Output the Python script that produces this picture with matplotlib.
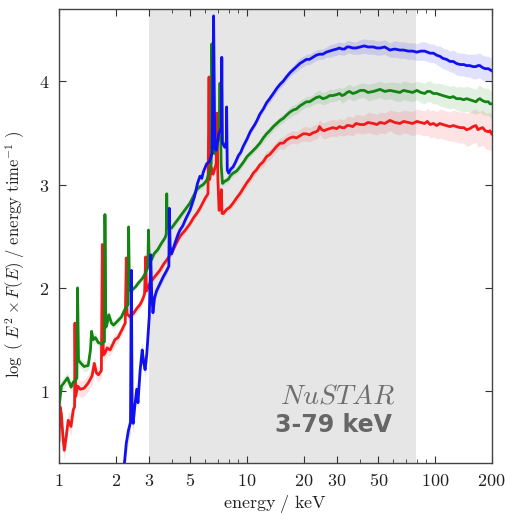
import numpy as np
import matplotlib
matplotlib.use("Agg")
import matplotlib.pyplot as plt
from matplotlib.ticker import FixedLocator, FixedFormatter, LogLocator, NullFormatter

plt.rcParams['mathtext.fontset'] = 'cm'

# (energy keV, log(E^2 F(E)), half-width of uncertainty band)
blue_points = [
    (2.20, 0.20, 0.12), (2.28, 0.50, 0.12), (2.34, 0.62, 0.10), (2.40, 0.70, 0.10),
    (2.425, 2.17, 0.10), (2.45, 0.76, 0.10), (2.48, 0.69, 0.10), (2.53, 0.86, 0.10),
    (2.59, 1.02, 0.09), (2.63, 0.89, 0.09), (2.70, 1.20, 0.08), (2.77, 1.40, 0.08),
    (2.82, 1.28, 0.08), (2.87, 1.21, 0.08), (2.93, 1.36, 0.07), (2.97, 1.52, 0.07),
    (3.02, 1.72, 0.06), (3.075, 2.32, 0.06), (3.11, 1.95, 0.05), (3.16, 1.76, 0.05),
    (3.22, 1.90, 0.05), (3.30, 1.97, 0.04), (3.44, 2.04, 0.04), (3.59, 2.11, 0.04),
    (3.72, 2.16, 0.04), (3.84, 2.21, 0.03), (3.86, 2.77, 0.03), (3.90, 2.40, 0.03),
    (3.97, 2.33, 0.03), (4.15, 2.44, 0.03), (4.30, 2.52, 0.03), (4.40, 2.56, 0.03),
    (4.55, 2.60, 0.03), (4.70, 2.66, 0.03), (4.97, 2.75, 0.03), (5.25, 2.88, 0.03),
    (5.45, 3.01, 0.03), (5.62, 3.08, 0.03), (5.75, 3.06, 0.03), (5.85, 3.12, 0.03),
    (6.10, 3.20, 0.03), (6.30, 3.22, 0.03), (6.52, 3.30, 0.03), (6.64, 4.63, 0.03),
    (6.74, 3.35, 0.03), (6.86, 3.33, 0.03), (7.05, 3.48, 0.03), (7.30, 3.55, 0.03),
    (7.34, 4.23, 0.03), (7.40, 3.40, 0.03), (7.62, 3.36, 0.03), (7.76, 3.42, 0.03),
    (7.79, 3.75, 0.03), (7.85, 3.14, 0.03), (7.98, 3.11, 0.03), (8.20, 3.15, 0.03),
    (8.43, 3.17, 0.03), (8.70, 3.22, 0.03), (9.00, 3.28, 0.03), (9.25, 3.31, 0.03),
    (9.55, 3.37, 0.03), (10.0, 3.44, 0.03), (10.4, 3.51, 0.03), (11.0, 3.58, 0.03),
    (11.3, 3.62, 0.03), (11.7, 3.68, 0.03), (12.2, 3.73, 0.03), (12.7, 3.79, 0.03),
    (13.2, 3.83, 0.04), (13.8, 3.88, 0.04), (14.4, 3.93, 0.04), (15.0, 3.97, 0.04),
    (15.6, 4.00, 0.04), (16.2, 4.04, 0.04), (16.9, 4.08, 0.04), (17.6, 4.11, 0.04),
    (18.3, 4.14, 0.05), (19.1, 4.17, 0.05), (19.9, 4.19, 0.05), (20.7, 4.21, 0.05),
    (21.5, 4.21, 0.05), (22.4, 4.23, 0.05), (23.3, 4.25, 0.05), (24.3, 4.26, 0.05),
    (25.3, 4.26, 0.05), (26.4, 4.28, 0.05), (27.5, 4.29, 0.06), (28.6, 4.30, 0.06),
    (30.0, 4.31, 0.06), (31.0, 4.32, 0.06), (32.0, 4.31, 0.06), (33.0, 4.31, 0.06),
    (34.0, 4.33, 0.06), (35.0, 4.33, 0.06), (36.5, 4.32, 0.06), (38.0, 4.32, 0.06),
    (40.0, 4.33, 0.07), (42.0, 4.34, 0.07), (44.0, 4.33, 0.07), (47.0, 4.33, 0.07),
    (49.0, 4.32, 0.07), (51.0, 4.32, 0.07), (54.0, 4.33, 0.07), (57.5, 4.30, 0.07),
    (61.0, 4.31, 0.08), (65.0, 4.30, 0.08), (68.0, 4.30, 0.08), (72.0, 4.29, 0.08),
    (76.0, 4.29, 0.08), (80.0, 4.28, 0.08), (84.0, 4.29, 0.09), (88.0, 4.29, 0.09),
    (91.0, 4.28, 0.09), (94.0, 4.27, 0.09), (98.0, 4.27, 0.09), (102, 4.25, 0.09),
    (106, 4.24, 0.10), (110, 4.22, 0.10), (115, 4.21, 0.10), (120, 4.19, 0.10),
    (125, 4.19, 0.11), (130, 4.17, 0.11), (136, 4.16, 0.11), (142, 4.16, 0.11),
    (147, 4.15, 0.11), (153, 4.15, 0.11), (159, 4.14, 0.12), (165, 4.14, 0.12),
    (169, 4.15, 0.12), (173, 4.15, 0.12), (179, 4.13, 0.12), (185, 4.12, 0.12),
    (192, 4.12, 0.12), (196, 4.11, 0.12), (200, 4.10, 0.12),
]

green_points = [
    (1.00, 0.85, 0.06), (1.03, 1.05, 0.06), (1.06, 1.08, 0.06), (1.11, 1.13, 0.05),
    (1.16, 1.04, 0.05), (1.19, 1.09, 0.05), (1.22, 1.10, 0.05), (1.245, 1.13, 0.05),
    (1.255, 2.00, 0.05), (1.27, 1.30, 0.05), (1.31, 1.27, 0.05), (1.36, 1.24, 0.05),
    (1.43, 1.25, 0.05), (1.47, 1.40, 0.05), (1.49, 1.58, 0.05), (1.52, 1.50, 0.05),
    (1.56, 1.52, 0.05), (1.62, 1.47, 0.05), (1.68, 1.46, 0.05), (1.745, 1.48, 0.04),
    (1.755, 2.71, 0.04), (1.775, 1.62, 0.04), (1.80, 1.65, 0.04), (1.84, 1.74, 0.04),
    (1.90, 1.66, 0.04), (1.95, 1.64, 0.04), (2.05, 1.68, 0.04), (2.15, 1.72, 0.04),
    (2.25, 1.80, 0.04), (2.33, 1.84, 0.04), (2.345, 2.59, 0.04), (2.37, 1.98, 0.04),
    (2.45, 1.98, 0.03), (2.55, 2.01, 0.03), (2.65, 2.05, 0.03), (2.77, 2.09, 0.03),
    (2.88, 2.14, 0.03), (2.97, 2.20, 0.03), (2.99, 2.56, 0.03), (3.02, 2.25, 0.03),
    (3.10, 2.27, 0.03), (3.20, 2.33, 0.03), (3.35, 2.37, 0.03), (3.50, 2.43, 0.03),
    (3.65, 2.48, 0.03), (3.72, 2.52, 0.03), (3.74, 2.91, 0.03), (3.77, 2.58, 0.03),
    (3.97, 2.58, 0.03), (4.20, 2.64, 0.03), (4.40, 2.69, 0.03), (4.70, 2.76, 0.03),
    (4.97, 2.82, 0.03), (5.20, 2.89, 0.03), (5.40, 2.95, 0.03), (5.62, 2.98, 0.03),
    (5.85, 3.00, 0.03), (6.10, 3.04, 0.03), (6.35, 3.14, 0.03), (6.45, 3.20, 0.03),
    (6.50, 4.36, 0.03), (6.58, 3.40, 0.03), (6.70, 3.30, 0.03), (6.90, 3.35, 0.03),
    (7.10, 3.50, 0.03), (7.18, 3.98, 0.03), (7.28, 3.20, 0.03), (7.40, 3.01, 0.03),
    (7.60, 3.03, 0.03), (7.94, 3.05, 0.03), (8.20, 3.09, 0.03), (8.43, 3.11, 0.03),
    (8.80, 3.13, 0.03), (9.16, 3.17, 0.03), (9.60, 3.22, 0.03), (10.0, 3.27, 0.03),
    (10.4, 3.30, 0.03), (10.8, 3.33, 0.03), (11.2, 3.36, 0.03), (11.7, 3.40, 0.03),
    (12.2, 3.45, 0.04), (12.7, 3.49, 0.04), (13.2, 3.52, 0.04), (13.8, 3.56, 0.04),
    (14.4, 3.59, 0.04), (15.0, 3.62, 0.04), (15.6, 3.64, 0.04), (16.2, 3.67, 0.04),
    (16.9, 3.70, 0.05), (17.6, 3.72, 0.05), (18.3, 3.73, 0.05), (19.1, 3.76, 0.05),
    (19.9, 3.78, 0.05), (20.7, 3.80, 0.05), (21.5, 3.80, 0.05), (22.4, 3.82, 0.05),
    (23.3, 3.84, 0.06), (24.3, 3.85, 0.06), (25.3, 3.83, 0.06), (26.4, 3.84, 0.06),
    (27.5, 3.86, 0.06), (28.6, 3.86, 0.06), (30.0, 3.87, 0.06), (31.0, 3.88, 0.06),
    (32.0, 3.86, 0.07), (33.0, 3.87, 0.07), (34.0, 3.89, 0.07), (35.0, 3.90, 0.07),
    (36.5, 3.88, 0.07), (38.0, 3.89, 0.07), (40.0, 3.91, 0.07), (42.0, 3.91, 0.07),
    (44.0, 3.89, 0.08), (47.0, 3.90, 0.08), (49.0, 3.91, 0.08), (51.0, 3.92, 0.08),
    (54.0, 3.90, 0.08), (57.5, 3.91, 0.08), (61.0, 3.90, 0.09), (65.0, 3.89, 0.09),
    (68.0, 3.91, 0.09), (72.0, 3.90, 0.09), (76.0, 3.89, 0.09), (80.0, 3.91, 0.09),
    (84.0, 3.89, 0.10), (88.0, 3.88, 0.10), (91.0, 3.90, 0.10), (94.0, 3.90, 0.10),
    (98.0, 3.88, 0.10), (102, 3.88, 0.10), (106, 3.87, 0.11), (110, 3.86, 0.11),
    (115, 3.85, 0.11), (120, 3.84, 0.11), (125, 3.85, 0.11), (130, 3.83, 0.11),
    (136, 3.83, 0.12), (142, 3.82, 0.12), (147, 3.83, 0.12), (153, 3.82, 0.12),
    (159, 3.81, 0.12), (165, 3.80, 0.12), (169, 3.82, 0.13), (173, 3.83, 0.13),
    (179, 3.81, 0.13), (185, 3.80, 0.13), (192, 3.80, 0.13), (196, 3.78, 0.13),
    (200, 3.78, 0.13),
]

red_points = [
    (1.00, 0.52, 0.10), (1.012, 0.85, 0.10), (1.03, 0.78, 0.10), (1.05, 0.55, 0.10),
    (1.067, 0.43, 0.10), (1.09, 0.55, 0.10), (1.12, 0.72, 0.09), (1.158, 0.66, 0.09),
    (1.19, 0.82, 0.09), (1.21, 0.85, 0.09), (1.216, 1.66, 0.09), (1.225, 0.95, 0.09),
    (1.257, 1.05, 0.08), (1.30, 1.02, 0.08), (1.36, 1.03, 0.08), (1.43, 1.08, 0.08),
    (1.50, 1.15, 0.08), (1.54, 1.27, 0.07), (1.58, 1.18, 0.07), (1.62, 1.16, 0.07),
    (1.68, 1.20, 0.07), (1.70, 2.42, 0.07), (1.72, 1.35, 0.06), (1.757, 1.37, 0.06),
    (1.80, 1.42, 0.06), (1.87, 1.40, 0.06), (1.985, 1.50, 0.06), (2.06, 1.52, 0.05),
    (2.155, 1.59, 0.05), (2.25, 1.66, 0.05), (2.28, 2.29, 0.05), (2.30, 1.75, 0.05),
    (2.385, 1.72, 0.05), (2.48, 1.75, 0.04), (2.59, 1.80, 0.04), (2.70, 1.84, 0.04),
    (2.77, 1.88, 0.04), (2.85, 1.94, 0.04), (2.89, 2.30, 0.04), (2.92, 1.97, 0.04),
    (3.05, 2.05, 0.04), (3.20, 2.10, 0.03), (3.44, 2.17, 0.03), (3.60, 2.23, 0.03),
    (3.74, 2.27, 0.03), (4.00, 2.35, 0.03), (4.20, 2.43, 0.03), (4.40, 2.50, 0.03),
    (4.70, 2.56, 0.03), (4.97, 2.62, 0.03), (5.20, 2.68, 0.03), (5.40, 2.72, 0.03),
    (5.62, 2.77, 0.03), (6.00, 2.87, 0.03), (6.20, 2.91, 0.03), (6.28, 4.04, 0.03),
    (6.33, 3.05, 0.03), (6.45, 3.17, 0.03), (6.60, 3.10, 0.03), (6.85, 3.20, 0.03),
    (6.92, 3.69, 0.03), (7.00, 3.05, 0.03), (7.10, 2.75, 0.03), (7.25, 2.78, 0.03),
    (7.30, 2.95, 0.03), (7.36, 2.72, 0.03), (7.48, 2.72, 0.03), (7.80, 2.76, 0.03),
    (8.10, 2.78, 0.03), (8.43, 2.82, 0.03), (8.80, 2.87, 0.04), (9.16, 2.91, 0.04),
    (9.60, 2.97, 0.04), (10.0, 3.02, 0.04), (10.4, 3.06, 0.04), (10.8, 3.11, 0.04),
    (11.2, 3.14, 0.04), (11.7, 3.19, 0.04), (12.2, 3.22, 0.05), (12.7, 3.27, 0.05),
    (13.2, 3.29, 0.05), (13.8, 3.33, 0.05), (14.4, 3.37, 0.05), (15.0, 3.40, 0.05),
    (15.6, 3.40, 0.06), (16.2, 3.43, 0.06), (16.9, 3.45, 0.06), (17.6, 3.46, 0.06),
    (18.3, 3.45, 0.06), (19.1, 3.47, 0.06), (19.9, 3.49, 0.07), (20.7, 3.49, 0.07),
    (21.5, 3.48, 0.07), (22.4, 3.50, 0.07), (23.3, 3.51, 0.07), (23.8, 3.52, 0.07),
    (24.3, 3.56, 0.07), (25.0, 3.53, 0.07), (25.7, 3.52, 0.08), (26.4, 3.53, 0.08),
    (27.5, 3.54, 0.08), (28.6, 3.55, 0.08), (30.0, 3.54, 0.08), (31.0, 3.56, 0.08),
    (32.0, 3.55, 0.08), (33.0, 3.55, 0.08), (34.0, 3.57, 0.09), (35.0, 3.57, 0.09),
    (36.5, 3.56, 0.09), (38.0, 3.59, 0.09), (40.0, 3.58, 0.09), (42.0, 3.58, 0.09),
    (44.0, 3.60, 0.10), (47.0, 3.59, 0.10), (49.0, 3.58, 0.10), (51.0, 3.60, 0.10),
    (54.0, 3.59, 0.10), (57.5, 3.62, 0.10), (61.0, 3.60, 0.11), (65.0, 3.59, 0.11),
    (68.0, 3.61, 0.11), (72.0, 3.60, 0.11), (76.0, 3.59, 0.12), (80.0, 3.61, 0.12),
    (84.0, 3.60, 0.12), (88.0, 3.59, 0.12), (91.0, 3.61, 0.13), (94.0, 3.58, 0.13),
    (98.0, 3.59, 0.13), (102, 3.57, 0.13), (106, 3.59, 0.14), (110, 3.58, 0.14),
    (115, 3.57, 0.14), (120, 3.56, 0.14), (125, 3.57, 0.15), (130, 3.56, 0.15),
    (136, 3.55, 0.15), (142, 3.55, 0.15), (147, 3.53, 0.16), (153, 3.54, 0.16),
    (159, 3.56, 0.16), (165, 3.57, 0.16), (169, 3.53, 0.17), (173, 3.54, 0.17),
    (179, 3.55, 0.17), (185, 3.52, 0.17), (192, 3.51, 0.18), (196, 3.52, 0.18),
    (200, 3.49, 0.18),
]

nustar_band = (3, 79)
xticks = [1, 2, 3, 5, 10, 20, 30, 50, 100, 200]
yticks = [1, 2, 3, 4]

fig = plt.figure(figsize=(5.06, 5.15), dpi=100)
ax = fig.add_axes([0.1166, 0.1016, 0.8551, 0.8815])

ax.axvspan(nustar_band[0], nustar_band[1], color='#e6e6e6', lw=0, zorder=0)

series = [
    (red_points, '#f01a1a'),
    (green_points, '#138413'),
    (blue_points, '#1010f0'),
]
for pts, col in series:
    en, fl, er = np.array(pts).T
    ax.fill_between(en, fl - er, fl + er, color=col, alpha=0.12, lw=0, zorder=1)
    ax.plot(en, fl, color=col, lw=2.0, zorder=2)

ax.set_xscale('log')
ax.set_xlim(1, 200)
ax.set_ylim(0.31, 4.70)

ax.xaxis.set_major_locator(FixedLocator(xticks))
ax.xaxis.set_major_formatter(FixedFormatter([r'$%d$' % t for t in xticks]))
ax.xaxis.set_minor_locator(LogLocator(subs=np.arange(2, 10)))
ax.xaxis.set_minor_formatter(NullFormatter())
ax.yaxis.set_major_locator(FixedLocator(yticks))
ax.yaxis.set_major_formatter(FixedFormatter([r'$%d$' % t for t in yticks]))

ax.tick_params(which='both', direction='in', top=True, right=True, colors='#333333',
               labelcolor='#222222', labelsize=13)
ax.tick_params(which='major', length=5, width=0.8, pad=7)
ax.tick_params(which='minor', length=3, width=0.6)
for sp in ax.spines.values():
    sp.set_color('#444444')
    sp.set_linewidth(1.0)

ax.set_xlabel(r'$\mathrm{energy\ /\ keV}$', fontsize=13, color='#222222', labelpad=2)
ax.set_ylabel(r'$\log\ (\ E^2\times F(E)\ /\ \mathrm{energy\ time}^{-1}\ )$',
              fontsize=12, color='#222222', labelpad=2)
ax.yaxis.set_label_coords(-0.075, 0.46)

ax.text(0.777, 0.130, r'$\mathit{NuSTAR}$', transform=ax.transAxes, ha='right',
        va='baseline', fontsize=20, color='#6e6e6e')
ax.text(0.770, 0.068, '3-79 keV', transform=ax.transAxes, ha='right', va='baseline',
        fontsize=17, fontweight='bold', family='DejaVu Sans', color='#666666')

fig.savefig('out.png', dpi=100)
